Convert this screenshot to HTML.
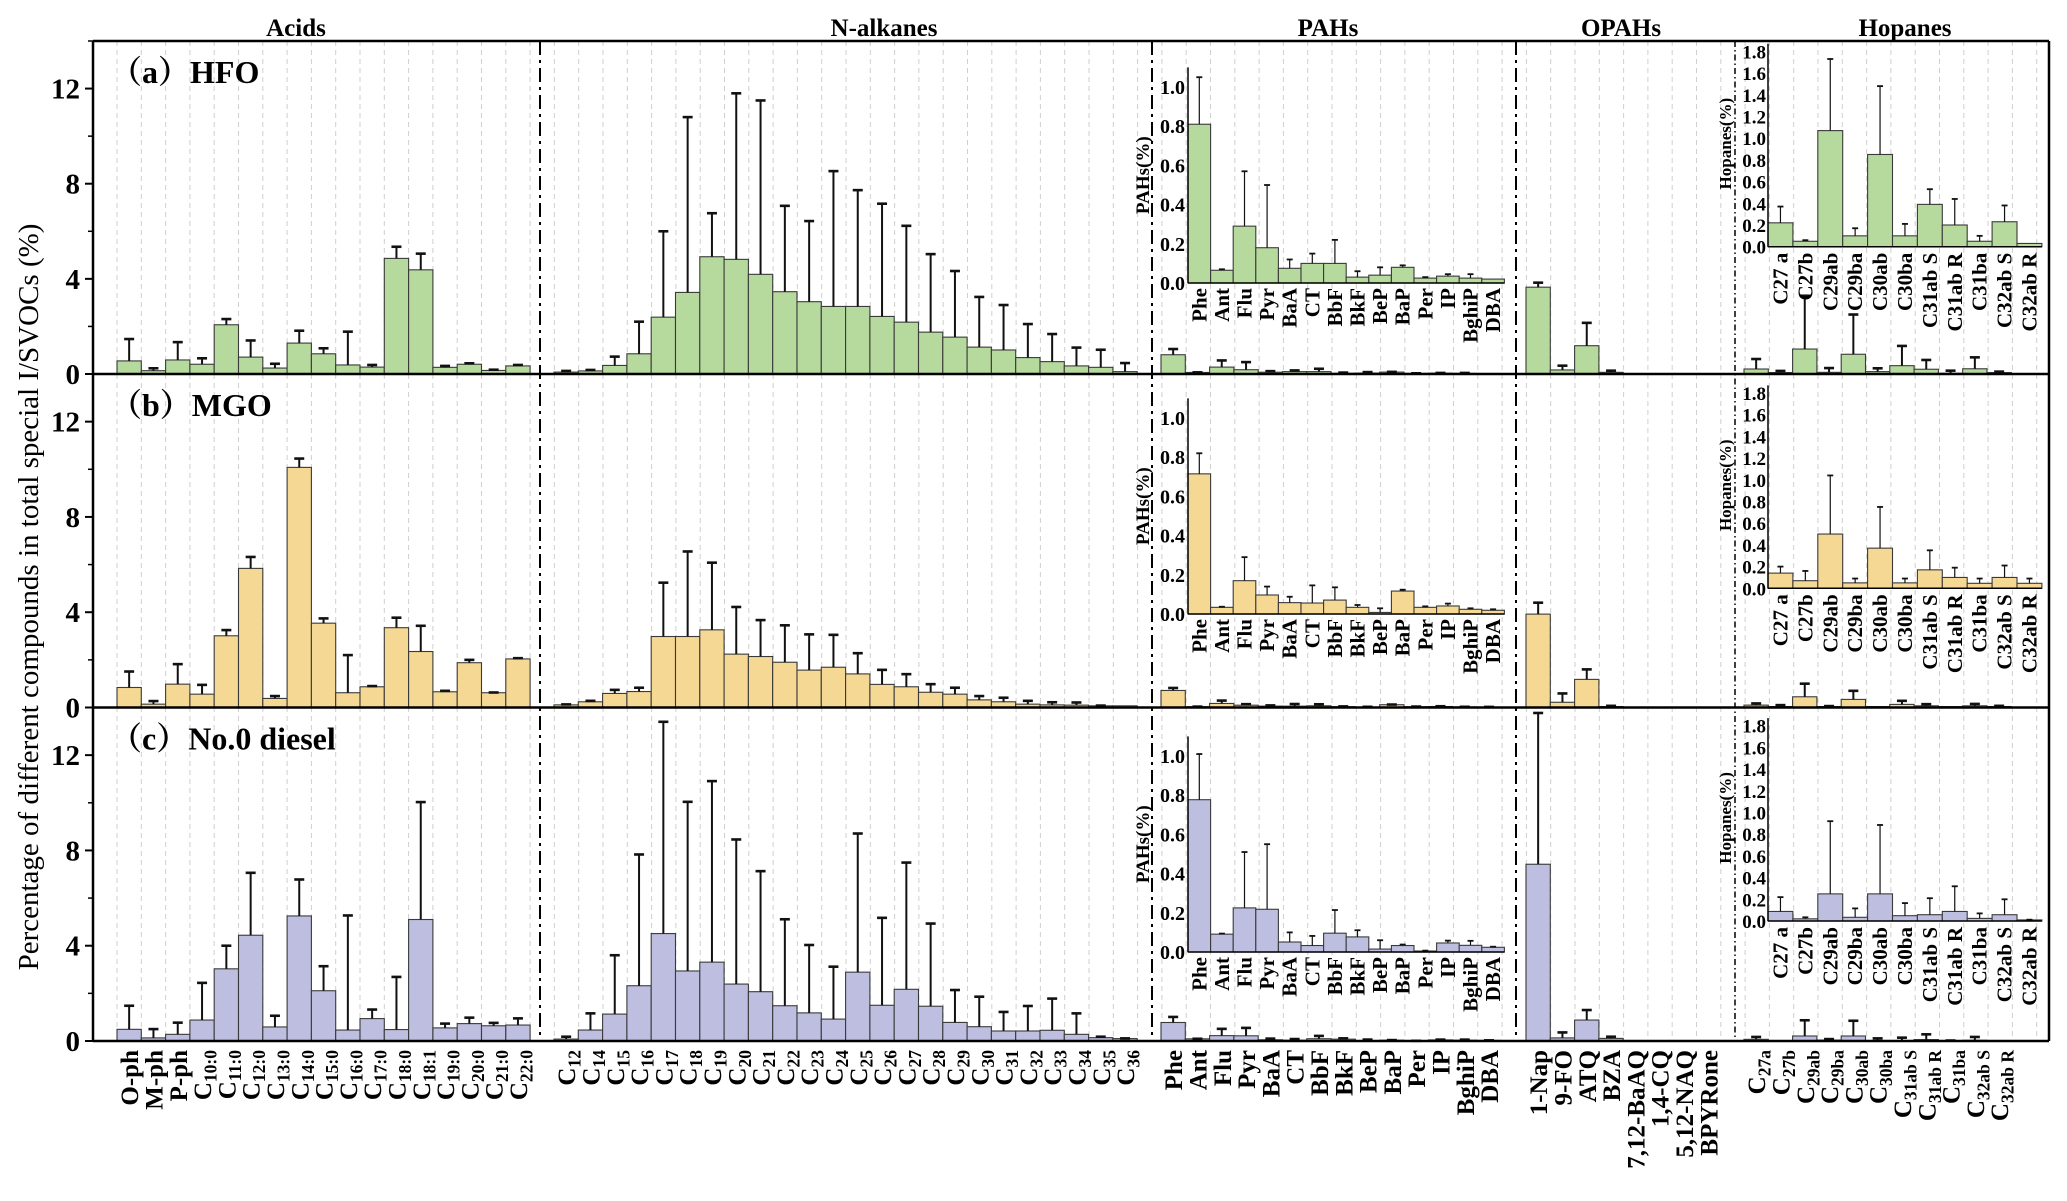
<!DOCTYPE html>
<html><head><meta charset="utf-8">
<style>
html,body{margin:0;padding:0;background:#fff;}
svg{display:block;}
text{font-family:"Liberation Serif","Noto Serif CJK SC",serif;}
</style></head>
<body>
<svg id="chart" width="2067" height="1201" viewBox="0 0 2067 1201" xmlns="http://www.w3.org/2000/svg"></svg>
<script>
// ---------- categories ----------
const acidCats = ['O-ph','M-ph','P-ph','C10:0','C11:0','C12:0','C13:0','C14:0','C15:0','C16:0','C17:0','C18:0','C18:1','C19:0','C20:0','C21:0','C22:0'];
const alkaneCats = ['C12','C14','C15','C16','C17','C18','C19','C20','C21','C22','C23','C24','C25','C26','C27','C28','C29','C30','C31','C32','C33','C34','C35','C36'];
const pahCats = ['Phe','Ant','Flu','Pyr','BaA','CT','BbF','BkF','BeP','BaP','Per','IP','BghiP','DBA'];
const opahCats = ['1-Nap','9-FO','ATQ','BZA','7,12-BaAQ','1,4-CQ','5,12-NAQ','BPYRone'];
const hopCats = ['C27a','C27b','C29ab','C29ba','C30ab','C30ba','C31ab S','C31ab R','C31ba','C32ab S','C32ab R'];
const hopInsetCats = ['C27 a','C27b','C29ab','C29ba','C30ab','C30ba','C31ab S','C31ab R','C31ba','C32ab S','C32ab R'];
const yTicks = [0,4,8,12];
const pahTicks = ['0.0','0.2','0.4','0.6','0.8','1.0'];
const hopTicks = ['0.0','0.2','0.4','0.6','0.8','1.0','1.2','1.4','1.6','1.8'];
const panelNames = ['HFO','MGO','No.0 diesel'];
const panelLetters = ['a','b','c'];
// ---------- HFO ----------
const hfoAcids = [0.55,0.14,0.59,0.41,2.07,0.71,0.25,1.30,0.85,0.38,0.29,4.86,4.38,0.28,0.41,0.15,0.34];
const hfoAcidsHi = [1.47,0.24,1.34,0.66,2.31,1.41,0.43,1.82,1.08,1.78,0.38,5.35,5.06,0.34,0.45,0.18,0.38];
const hfoAlkanes = [0.08,0.13,0.36,0.85,2.39,3.43,4.93,4.82,4.19,3.46,3.04,2.84,2.84,2.42,2.18,1.76,1.55,1.13,1.01,0.69,0.52,0.34,0.28,0.10];
const hfoAlkanesHi = [0.13,0.17,0.73,2.2,6.0,10.8,6.76,11.8,11.5,7.07,6.43,8.53,7.73,7.16,6.23,5.04,4.33,3.24,2.9,2.1,1.68,1.11,1.02,0.46];
const hfoPah = [0.81,0.065,0.29,0.18,0.075,0.10,0.10,0.03,0.04,0.08,0.025,0.035,0.025,0.02];
const hfoPahHi = [1.05,0.07,0.57,0.50,0.12,0.15,0.22,0.06,0.08,0.09,0.03,0.045,0.045,0.02];
const hfoOpah = [3.65,0.17,1.19,0.07,0,0,0,0];
const hfoOpahHi = [3.84,0.35,2.15,0.14,0,0,0,0];
const hfoHop = [0.21,0.06,1.05,0.07,0.83,0.10,0.35,0.20,0.03,0.22,0.06];
const hfoHopHi = [0.63,0.13,3.29,0.25,2.5,0.24,1.18,0.59,0.14,0.7,0.1];
const hfoHopInset = [0.22,0.05,1.07,0.10,0.85,0.10,0.39,0.20,0.05,0.23,0.03];
const hfoHopInsetHi = [0.37,0.06,1.73,0.17,1.48,0.21,0.53,0.44,0.10,0.38,0.03];
// ---------- MGO ----------
const mgoAcids = [0.84,0.14,0.98,0.56,3.01,5.84,0.38,10.08,3.54,0.62,0.87,3.35,2.35,0.66,1.88,0.62,2.04];
const mgoAcidsHi = [1.51,0.27,1.82,0.95,3.25,6.32,0.48,10.45,3.74,2.2,0.9,3.77,3.43,0.7,2.0,0.63,2.07];
const mgoAlkanes = [0.11,0.24,0.59,0.67,2.98,2.98,3.26,2.24,2.14,1.9,1.57,1.69,1.41,0.97,0.87,0.64,0.56,0.32,0.24,0.14,0.11,0.1,0.07,0.07];
const mgoAlkanesHi = [0.13,0.28,0.74,0.83,5.24,6.55,6.08,4.22,3.67,3.45,3.07,3.05,2.28,1.58,1.4,0.98,0.83,0.48,0.41,0.28,0.22,0.21,0.08,0.07];
const mgoPah = [0.715,0.034,0.17,0.097,0.058,0.056,0.071,0.034,0.008,0.117,0.034,0.041,0.024,0.019];
const mgoPahHi = [0.82,0.037,0.29,0.14,0.088,0.146,0.136,0.046,0.029,0.124,0.039,0.053,0.029,0.024];
const mgoOpah = [3.92,0.22,1.18,0.04,0,0,0,0];
const mgoOpahHi = [4.4,0.59,1.6,0.07,0,0,0,0];
const mgoHop = [0.1,0.04,0.45,0.04,0.34,0.04,0.13,0.07,0.04,0.07,0.04];
const mgoHopHi = [0.17,0.1,1.0,0.06,0.7,0.04,0.28,0.14,0.04,0.15,0.07];
const mgoHopInset = [0.14,0.07,0.5,0.05,0.37,0.05,0.17,0.10,0.046,0.10,0.046];
const mgoHopInsetHi = [0.2,0.16,1.04,0.09,0.75,0.09,0.35,0.19,0.09,0.21,0.09];
// ---------- No.0 diesel ----------
const dslAcids = [0.49,0.13,0.28,0.88,3.03,4.44,0.59,5.25,2.11,0.46,0.94,0.48,5.1,0.55,0.73,0.64,0.67];
const dslAcidsHi = [1.48,0.5,0.77,2.44,4.0,7.06,1.06,6.78,3.14,5.27,1.32,2.69,10.03,0.73,0.98,0.76,0.95];
const dslAlkanes = [0.08,0.46,1.13,2.32,4.51,2.94,3.31,2.39,2.07,1.48,1.18,0.92,2.89,1.5,2.17,1.46,0.78,0.6,0.42,0.42,0.45,0.28,0.14,0.1];
const dslAlkanesHi = [0.18,1.16,3.6,7.83,13.4,10.04,10.91,8.46,7.13,5.11,4.03,3.12,8.71,5.17,7.49,4.93,2.14,1.86,1.22,1.47,1.78,1.16,0.18,0.11];
const dslPah = [0.777,0.091,0.225,0.218,0.051,0.033,0.096,0.077,0.015,0.033,0.005,0.046,0.034,0.024];
const dslPahHi = [1.01,0.094,0.51,0.55,0.10,0.082,0.214,0.111,0.06,0.038,0.007,0.058,0.057,0.027];
const dslOpah = [7.42,0.13,0.88,0.11,0,0,0,0];
const dslOpahHi = [13.77,0.36,1.3,0.18,0,0,0,0];
const dslHop = [0.07,0.01,0.21,0.04,0.21,0.01,0.02,0.06,0.01,0.03,0];
const dslHopHi = [0.17,0.01,0.87,0.08,0.85,0.11,0.14,0.28,0.02,0.17,0];
const dslHopInset = [0.088,0.02,0.25,0.034,0.25,0.049,0.058,0.088,0.024,0.058,0.01];
const dslHopInsetHi = [0.22,0.034,0.92,0.116,0.885,0.165,0.21,0.32,0.07,0.2,0.012];

const panels = [
  {acids:hfoAcids,acidsHi:hfoAcidsHi,alk:hfoAlkanes,alkHi:hfoAlkanesHi,pah:hfoPah,pahHi:hfoPahHi,opah:hfoOpah,opahHi:hfoOpahHi,hop:hfoHop,hopHi:hfoHopHi,hopIn:hfoHopInset,hopInHi:hfoHopInsetHi},
  {acids:mgoAcids,acidsHi:mgoAcidsHi,alk:mgoAlkanes,alkHi:mgoAlkanesHi,pah:mgoPah,pahHi:mgoPahHi,opah:mgoOpah,opahHi:mgoOpahHi,hop:mgoHop,hopHi:mgoHopHi,hopIn:mgoHopInset,hopInHi:mgoHopInsetHi},
  {acids:dslAcids,acidsHi:dslAcidsHi,alk:dslAlkanes,alkHi:dslAlkanesHi,pah:dslPah,pahHi:dslPahHi,opah:dslOpah,opahHi:dslOpahHi,hop:dslHop,hopHi:dslHopHi,hopIn:dslHopInset,hopInHi:dslHopInsetHi}
];

// ---------- layout ----------
const svg = document.getElementById('chart');
const NS = 'http://www.w3.org/2000/svg';
const X0 = 93, X1 = 2049, SLOT = 24.3, GRID0 = 117;
const tops = [41, 374, 707.5], bases = [374, 707.5, 1041];
const YMAX = 14;
const colors = ['#b6d99d', '#f5d894', '#bdbee0'];
const groupStart = {acids:117, alk:554, pah:1161, opah:1526, hop:1744};
const seps = [540, 1152, 1516, 1735];
const pahInsetBase = [283, 614, 952], PAH_UNIT = 196, PAH_X = 1188, PAH_W = 22.6;
const hopInsetBase = [246.7, 588.3, 921], HOP_UNIT = 108.5, HOP_X = 1768, HOP_W = 24.9;

function el(tag, attrs, parent) {
  const e = document.createElementNS(NS, tag);
  for (const k in attrs) e.setAttribute(k, attrs[k]);
  (parent || svg).appendChild(e);
  return e;
}
function yMain(p, v) { return bases[p] - v * (bases[p] - tops[p]) / YMAX; }
function slotX(start, i, w) { return start + i * w; }

// grid lines
for (let k = 0; GRID0 + k * SLOT < X1 - 2; k++) {
  const x = GRID0 + k * SLOT;
  const g = el('line', {x1:x, x2:x, y1:tops[0], y2:bases[2], stroke:'#cfcfcf', 'stroke-width':1, 'stroke-dasharray':'5,4'});
  
  
}

function bars(p, start, w, vals, his, scaleFn, name, capW, errW) {
  vals.forEach((v, i) => {
    const x = slotX(start, i, w);
    const y = scaleFn(v);
    const y0 = scaleFn(0);
    const r = el('rect', {x:x, y:Math.min(y, y0), width:w, height:Math.max(Math.abs(y0 - y), 0.01), fill:colors[p], stroke:'#3a3a3a', 'stroke-width':1.1});
    
    
    const hi = his[i];
    if (hi > v) {
      const yh = scaleFn(hi);
      const cx = x + w / 2;
      const e1 = el('line', {x1:cx, x2:cx, y1:y, y2:yh, stroke:'#111', 'stroke-width':errW});
      
      
      const e2 = el('line', {x1:cx - capW / 2, x2:cx + capW / 2, y1:yh, y2:yh, stroke:'#111', 'stroke-width':errW + 0.6});
      
      
    }
  });
}

function rotLabel(x, yTop, label, size, name, subRule) {
  const t = el('text', {transform:'translate(' + x + ',' + yTop + ') rotate(-90)', 'text-anchor':'end', 'font-size':size, 'font-weight':'bold', fill:'#000'});
  
  
  const m = subRule ? label.match(/^C(\d.*)$/) : null;
  if (m) {
    const a = document.createElementNS(NS, 'tspan'); a.textContent = 'C'; t.appendChild(a);
    const b = document.createElementNS(NS, 'tspan');
    b.setAttribute('font-size', size * 0.7);
    b.setAttribute('dy', size * 0.22);
    b.textContent = m[1]; t.appendChild(b);
  } else {
    t.textContent = label;
  }
  return t;
}

// ---------- panels ----------
panels.forEach((d, p) => {
  const ym = v => yMain(p, v);
  bars(p, groupStart.acids, SLOT, d.acids, d.acidsHi, ym, 'acids', 10, 2);
  bars(p, groupStart.alk, SLOT, d.alk, d.alkHi, ym, 'n-alkanes', 10, 2);
  bars(p, groupStart.pah, SLOT, d.pah, d.pahHi, ym, 'pahs', 10, 2);
  bars(p, groupStart.opah, SLOT, d.opah, d.opahHi, ym, 'opahs', 10, 2);
  bars(p, groupStart.hop, SLOT, d.hop, d.hopHi, ym, 'hopanes', 10, 2);

  // PAH inset
  const pb = pahInsetBase[p];
  const yp = v => pb - v * PAH_UNIT;
  bars(p, PAH_X, PAH_W, d.pah, d.pahHi, yp, 'pah-inset', 6, 1.2);
  const pa = el('line', {x1:PAH_X, x2:PAH_X, y1:pb, y2:yp(1.1), stroke:'#000', 'stroke-width':1.5});
  
  
  const pbl = el('line', {x1:PAH_X, x2:PAH_X + PAH_W * pahCats.length, y1:pb, y2:pb, stroke:'#000', 'stroke-width':1.5});
  
  
  pahTicks.forEach(s => {
    const t = el('text', {x:PAH_X - 3, y:yp(parseFloat(s)) + 7, 'text-anchor':'end', 'font-size':20, 'font-weight':'bold'});
    
    
    t.textContent = s;
  });
  const pt = el('text', {transform:'translate(' + 1149 + ',' + (pb - 0.55 * PAH_UNIT) + ') rotate(-90)', 'text-anchor':'middle', 'font-size':19, 'font-weight':'bold'});
  
  
  pt.textContent = 'PAHs(%)';
  pahCats.forEach((c, i) => {
    rotLabel(PAH_X + PAH_W * (i + 0.5) + 7, pb + 5, c, 21, 'pah-inset-x-label', false);
  });

  // Hopane inset
  const hb = hopInsetBase[p];
  const yh = v => hb - v * HOP_UNIT;
  bars(p, HOP_X, HOP_W, d.hopIn, d.hopInHi, yh, 'hopane-inset', 6, 1.2);
  const ha = el('line', {x1:HOP_X, x2:HOP_X, y1:hb, y2:yh(1.87), stroke:'#000', 'stroke-width':1.5});
  
  
  const hbl = el('line', {x1:HOP_X, x2:HOP_X + HOP_W * hopInsetCats.length, y1:hb, y2:hb, stroke:'#000', 'stroke-width':1.5});
  
  
  hopTicks.forEach(s => {
    const t = el('text', {x:HOP_X - 2, y:yh(parseFloat(s)) + 7, 'text-anchor':'end', 'font-size':19, 'font-weight':'bold'});
    
    
    t.textContent = s;
  });
  const ht = el('text', {transform:'translate(' + 1731 + ',' + (hb - 0.95 * HOP_UNIT) + ') rotate(-90)', 'text-anchor':'middle', 'font-size':17, 'font-weight':'bold'});
  
  
  ht.textContent = 'Hopanes(%)';
  hopInsetCats.forEach((c, i) => {
    rotLabel(HOP_X + HOP_W * (i + 0.5) + 7, hb + 6, c, 21, 'hopane-inset-x-label', false);
  });

  // y ticks
  yTicks.forEach(v => {
    const t = el('text', {x:80, y:ym(v) + 10, 'text-anchor':'end', 'font-size':29, 'font-weight':'bold'});
    
    
    t.textContent = v;
    const tk = el('line', {x1:X0 - 8, x2:X0, y1:ym(v), y2:ym(v), stroke:'#000', 'stroke-width':2});
    
    
    const mk = el('line', {x1:X0 - 5, x2:X0, y1:ym(v + 2), y2:ym(v + 2), stroke:'#000', 'stroke-width':1.5});
    
    
  });

  // panel title
  const pt2 = el('text', {x:110, y:tops[p] + 42, 'font-size':32, 'font-weight':'bold'});
  
  
  pt2.textContent = '（' + panelLetters[p] + '）' + panelNames[p];

  // baseline
  const bl = el('line', {x1:X0, x2:X1, y1:bases[p], y2:bases[p], stroke:'#000', 'stroke-width':2.5});
  
  
});

// separators
seps.forEach((x, i) => {
  const s = el('line', {x1:x, x2:x, y1:tops[0], y2:bases[2], stroke:'#000', 'stroke-width': i === 3 ? 1.5 : 2, 'stroke-dasharray': i === 3 ? '6,3,1.5,3' : '14,5,3,5'});
  
  
});

// frame
const topLine = el('line', {x1:X0, x2:X1, y1:tops[0], y2:tops[0], stroke:'#000', 'stroke-width':2.5});


const leftAx = el('line', {x1:X0, x2:X0, y1:tops[0], y2:bases[2], stroke:'#000', 'stroke-width':2.5});


const rightAx = el('line', {x1:X1, x2:X1, y1:tops[0], y2:bases[2], stroke:'#000', 'stroke-width':2.5});



// group titles
const groupTitles = [['Acids',296],['N-alkanes',884],['PAHs',1328],['OPAHs',1621],['Hopanes',1905]];
groupTitles.forEach(g => {
  const t = el('text', {x:g[1], y:36, 'text-anchor':'middle', 'font-size':25, 'font-weight':'bold'});
  
  
  t.textContent = g[0];
});

// y-axis title
const yt = el('text', {transform:'translate(38,597) rotate(-90)', 'text-anchor':'middle', 'font-size':29});


yt.textContent = 'Percentage of different compounds in total special I/SVOCs (%)';

// bottom x labels
const LY = 1050;
acidCats.forEach((c, i) => rotLabel(groupStart.acids + SLOT * (i + 0.5) + 9, LY, c, 25, 'acid-x-label', true));
alkaneCats.forEach((c, i) => rotLabel(groupStart.alk + SLOT * (i + 0.5) + 9, LY, c, 25, 'alkane-x-label', true));
pahCats.forEach((c, i) => rotLabel(groupStart.pah + SLOT * (i + 0.5) + 9, LY, c, 25, 'pah-x-label', false));
opahCats.forEach((c, i) => rotLabel(groupStart.opah + SLOT * (i + 0.5) + 9, LY, c, 25, 'opah-x-label', false));
hopCats.forEach((c, i) => rotLabel(groupStart.hop + SLOT * (i + 0.5) + 9, LY, c, 25, 'hopane-x-label', true));
</script>
</body></html>
